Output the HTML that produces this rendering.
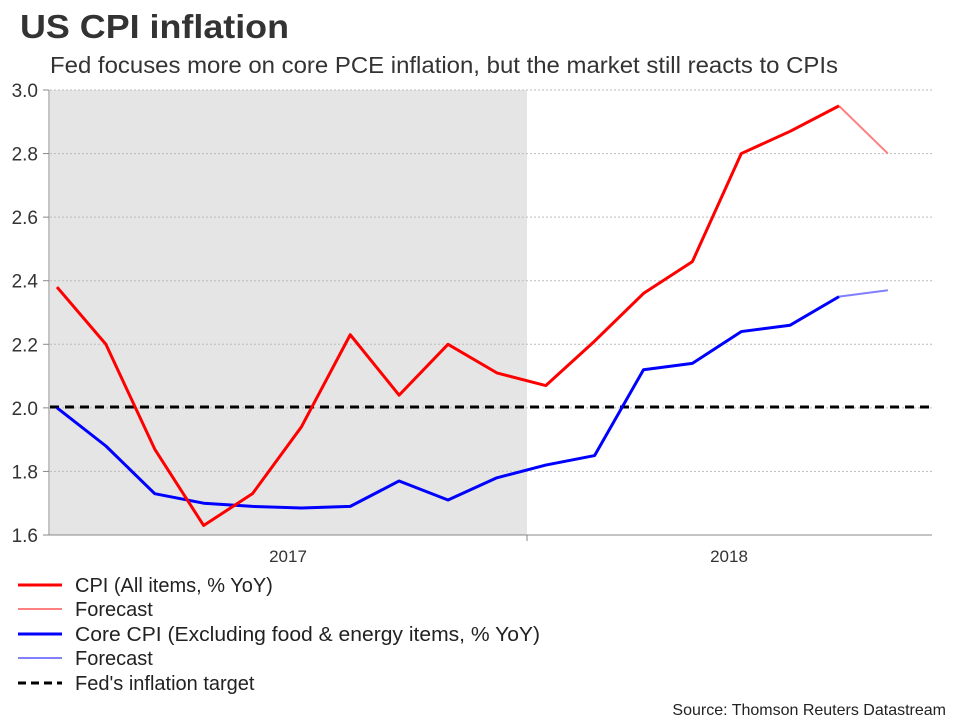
<!DOCTYPE html>
<html><head><meta charset="utf-8"><style>
body{margin:0;width:960px;height:720px;background:#fff;font-family:"Liberation Sans",sans-serif;overflow:hidden}
svg{display:block}
</style></head><body>
<svg width="960" height="720">
<text x="20" y="38" font-size="33" font-weight="bold" fill="#333" textLength="269" lengthAdjust="spacingAndGlyphs">US CPI inflation</text>
<text x="50" y="73" font-size="23" fill="#333" textLength="788" lengthAdjust="spacingAndGlyphs">Fed focuses more on core PCE inflation, but the market still reacts to CPIs</text>
<rect x="50" y="90" width="477" height="445" fill="#e5e5e5"/>
<g id="grid"></g><g id="yt"></g>
<line x1="49" y1="90" x2="49" y2="535" stroke="#888"/>
<line x1="49" y1="535" x2="932" y2="535" stroke="#888"/>
<line x1="527" y1="535" x2="527" y2="541" stroke="#888"/>
<text x="288" y="562" font-size="17" fill="#333" text-anchor="middle">2017</text>
<text x="729" y="562" font-size="17" fill="#333" text-anchor="middle">2018</text>
<line x1="50" y1="407" x2="932" y2="407" stroke="#000" stroke-width="3" stroke-dasharray="9,6"/>
<g id="series"></g>
<g>
<line x1="18" y1="585" x2="62" y2="585" stroke="#f00" stroke-width="3"/><text x="75" y="592" font-size="20" fill="#222">CPI (All items, % YoY)</text>
<line x1="18" y1="609" x2="62" y2="609" stroke="#ff8080" stroke-width="2"/><text x="75" y="616" font-size="20" fill="#222">Forecast</text>
<line x1="18" y1="634" x2="62" y2="634" stroke="#00f" stroke-width="3"/><text x="75" y="641" font-size="20" fill="#222" textLength="465" lengthAdjust="spacingAndGlyphs">Core CPI (Excluding food &amp; energy items, % YoY)</text>
<line x1="18" y1="658" x2="62" y2="658" stroke="#8080ff" stroke-width="2"/><text x="75" y="665" font-size="20" fill="#222">Forecast</text>
<line x1="18" y1="683" x2="62" y2="683" stroke="#000" stroke-width="3" stroke-dasharray="8,5"/><text x="75" y="690" font-size="20" fill="#222">Fed's inflation target</text>
</g>
<text x="946" y="715" font-size="16" fill="#222" text-anchor="end">Source: Thomson Reuters Datastream</text>
</svg>
<script>
const yTicks=[1.6,1.8,2.0,2.2,2.4,2.6,2.8,3.0];
const cpi=[2.38,2.20,1.87,1.63,1.73,1.94,2.23,2.04,2.20,2.11,2.07,2.21,2.36,2.46,2.80,2.87,2.95];
const cpiForecast=[2.95,2.80];
const core=[2.00,1.88,1.73,1.70,1.69,1.685,1.69,1.77,1.71,1.78,1.82,1.85,2.12,2.14,2.24,2.26,2.35];
const coreForecast=[2.35,2.37];
const NS='http://www.w3.org/2000/svg';
const y=v=>535-(v-1.6)/1.4*445;
const x=i=>57+i*48.875;
const g=document.getElementById('grid'),yt=document.getElementById('yt'),s=document.getElementById('series');
yTicks.forEach(t=>{
 if(t>1.6){const l=document.createElementNS(NS,'line');
 l.setAttribute('x1',50);l.setAttribute('x2',932);l.setAttribute('y1',y(t));l.setAttribute('y2',y(t));
 l.setAttribute('stroke','#bbb');l.setAttribute('stroke-dasharray','2,2');
 
 g.appendChild(l);}
 const tk=document.createElementNS(NS,'line');
 tk.setAttribute('x1',43);tk.setAttribute('x2',49);tk.setAttribute('y1',y(t));tk.setAttribute('y2',y(t));tk.setAttribute('stroke','#888');
 
 yt.appendChild(tk);
 const tx=document.createElementNS(NS,'text');
 tx.setAttribute('x',38);tx.setAttribute('y',y(t)+7);tx.setAttribute('text-anchor','end');tx.setAttribute('font-size','19');tx.setAttribute('fill','#333');
 tx.textContent=t.toFixed(1);
 
 yt.appendChild(tx);
});
function line(data,off,color,w,name){
 const p=document.createElementNS(NS,'polyline');
 p.setAttribute('points',data.map((v,i)=>x(i+off)+','+y(v)).join(' '));
 p.setAttribute('fill','none');p.setAttribute('stroke',color);p.setAttribute('stroke-width',w);p.setAttribute('stroke-linejoin','round');
 
 
 s.appendChild(p);
}
line(cpiForecast,cpi.length-1,'#ff8080',2,'cpi-forecast-line');
line(coreForecast,core.length-1,'#8080ff',2,'core-forecast-line');
line(core,0,'#00f',3,'core-cpi-line');
line(cpi,0,'#f00',3,'cpi-line');
</script>
</body></html>
